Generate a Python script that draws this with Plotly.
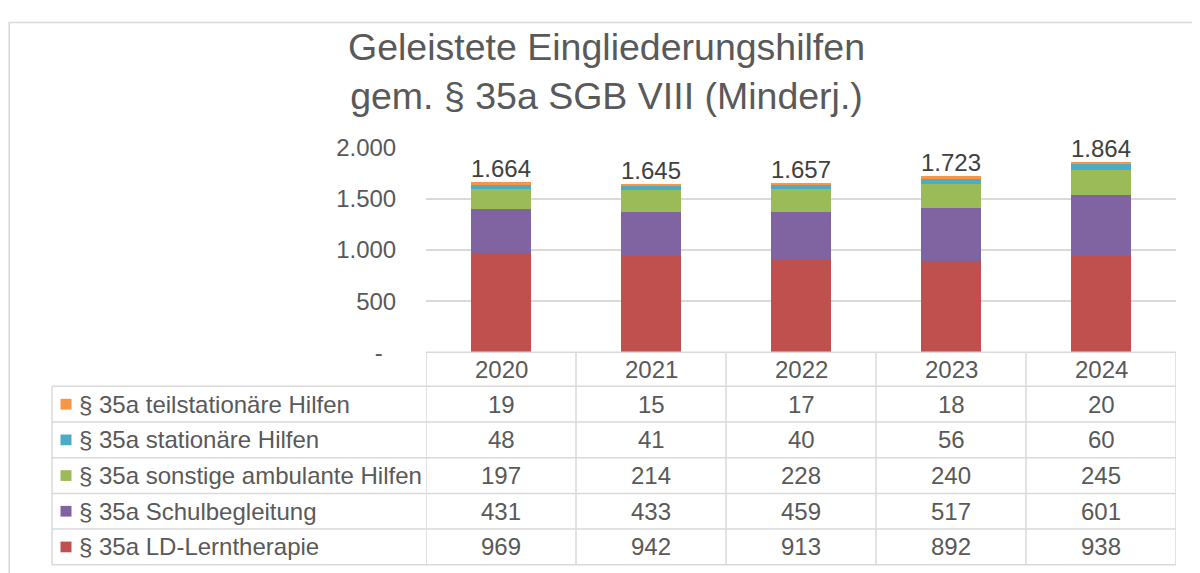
import plotly.graph_objects as go

# ---- data ----
years = ["2020", "2021", "2022", "2023", "2024"]
series_names = [
    "§ 35a LD-Lerntherapie",
    "§ 35a Schulbegleitung",
    "§ 35a sonstige ambulante Hilfen",
    "§ 35a stationäre Hilfen",
    "§ 35a teilstationäre Hilfen",
]
ld_lerntherapie = [969, 942, 913, 892, 938]
schulbegleitung = [431, 433, 459, 517, 601]
sonstige_ambulant = [197, 214, 228, 240, 245]
stationaer = [48, 41, 40, 56, 60]
teilstationaer = [19, 15, 17, 18, 20]
series_values = [ld_lerntherapie, schulbegleitung, sonstige_ambulant, stationaer, teilstationaer]
series_colors = ["#C0504D", "#8064A2", "#9BBB59", "#4BACC6", "#F79646"]

y_tickvals = [0, 500, 1000, 1500, 2000]
y_ticktext = ["-\u00a0\u00a0", "500", "1.000", "1.500", "2.000"]

title_text = "Geleistete Eingliederungshilfen<br>gem. § 35a SGB VIII (Minderj.)"

# ---- layout constants (pixels of the target picture) ----
W, H = 1200, 573
OX, OY, HE = 8, 13, 560  # paper origin on the page and its effective height
FONT = "Liberation Sans, Arial, sans-serif"
TXT = "#595959"
GRID = "#D9D9D9"
FS = 24
plot_left, plot_right = 426, 1176
plot_top, plot_bottom = 142, 351.7
table_left = 52
header_bottom = 386.7
row_h = 36.6


def px(x):
    return (x - OX) / W


def py(y):
    return 1 - (y - OY) / HE


def fmt(v):
    return f"{v:,}".replace(",", ".")


fig = go.Figure()
for name, vals, col in zip(series_names, series_values, series_colors):
    fig.add_trace(go.Bar(
        x=years, y=vals, name=name, marker=dict(color=col, line=dict(width=0)),
        hoverinfo="x+y+name",
    ))

totals = [sum(v) for v in zip(*series_values)]

annotations = []
shapes = []

# title
annotations.append(dict(
    text=title_text, x=px(606), y=py(64), xref="paper", yref="paper",
    xanchor="center", yanchor="middle", showarrow=False,
    font=dict(family=FONT, size=37.5, color=TXT),
))

# totals above bars
for i, t in enumerate(totals):
    annotations.append(dict(
        text=fmt(t), x=i, y=t, xref="x", yref="y", xanchor="center",
        yanchor="bottom", yshift=-2, showarrow=False,
        font=dict(family=FONT, size=FS, color="#404040"),
    ))

# ---- data table ----
table_bottom = header_bottom + row_h * len(series_names)
shapes.append(dict(type="line", xref="paper", yref="paper",
                   x0=px(plot_left), x1=px(plot_right), y0=py(plot_bottom), y1=py(plot_bottom),
                   line=dict(color=GRID, width=1.5)))
for r in range(len(series_names) + 1):
    yy = header_bottom + r * row_h
    shapes.append(dict(type="line", xref="paper", yref="paper",
                       x0=px(table_left), x1=px(plot_right), y0=py(yy), y1=py(yy),
                       line=dict(color=GRID, width=1.5)))
shapes.append(dict(type="line", xref="paper", yref="paper",
                   x0=px(table_left), x1=px(table_left), y0=py(header_bottom), y1=py(table_bottom),
                   line=dict(color=GRID, width=1.5)))
for i in range(len(years) + 1):
    shapes.append(dict(type="line", xref="x", yref="paper",
                       x0=i - 0.5, x1=i - 0.5, y0=py(plot_bottom), y1=py(table_bottom),
                       line=dict(color=GRID, width=1.5)))

for i, yr in enumerate(years):
    annotations.append(dict(
        text=yr, x=i, y=py((plot_bottom + header_bottom) / 2), xref="x", yref="paper",
        xanchor="center", yanchor="middle", showarrow=False,
        font=dict(family=FONT, size=FS, color=TXT),
    ))

row_order = list(range(len(series_names)))[::-1]
for r, si in enumerate(row_order):
    yc = header_bottom + (r + 0.5) * row_h
    shapes.append(dict(type="rect", xref="paper", yref="paper",
                       x0=px(60.5), x1=px(71.5), y0=py(yc - 5.5), y1=py(yc + 5.5),
                       fillcolor=series_colors[si], line=dict(width=0)))
    annotations.append(dict(
        text=series_names[si], x=px(77), y=py(yc), xref="paper", yref="paper",
        xanchor="left", yanchor="middle", showarrow=False,
        font=dict(family=FONT, size=FS, color=TXT),
    ))
    for i, v in enumerate(series_values[si]):
        annotations.append(dict(
            text=fmt(v), x=i, y=py(yc), xref="x", yref="paper",
            xanchor="center", yanchor="middle", showarrow=False,
            font=dict(family=FONT, size=FS, color=TXT),
        ))

# outer chart border
shapes.append(dict(type="rect", xref="paper", yref="paper",
                   x0=0.001, x1=1.05, y0=-0.05, y1=0.999,
                   line=dict(color=GRID, width=1.5), fillcolor="rgba(0,0,0,0)", layer="below"))

fig.update_layout(
    width=W, height=H,
    margin=dict(l=0, r=0, t=0, b=0),
    paper_bgcolor="white", plot_bgcolor="white",
    barmode="stack", bargap=0.6,
    showlegend=False,
    font=dict(family=FONT, color=TXT),
    xaxis=dict(domain=[px(plot_left), px(plot_right)], range=[-0.5, len(years) - 0.5],
               showticklabels=False, showgrid=False, zeroline=False, showline=False,
               type="category", fixedrange=True),
    yaxis=dict(domain=[py(plot_bottom), py(plot_top)], range=[0, 2000],
               tickvals=y_tickvals, ticktext=y_ticktext,
               showgrid=True, gridcolor=GRID, gridwidth=1.5, zeroline=False, showline=False,
               ticks="outside", ticklen=24, tickcolor="rgba(0,0,0,0)",
               tickfont=dict(family=FONT, size=FS, color=TXT), fixedrange=True),
    annotations=annotations,
    shapes=shapes,
)

fig.write_html("out.html")
